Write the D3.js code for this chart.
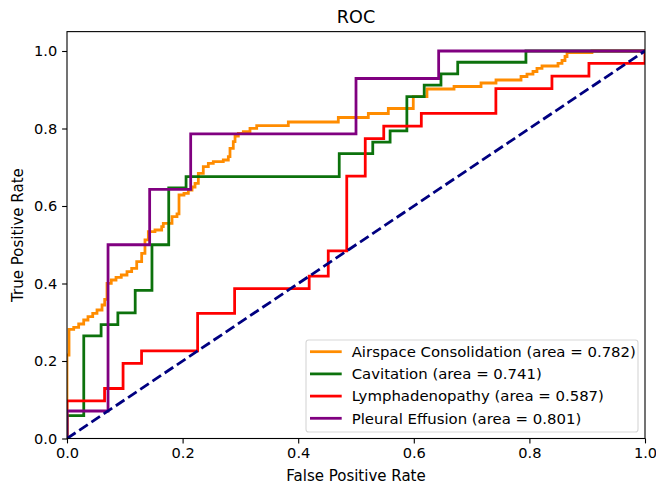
<!DOCTYPE html>
<html>
<head>
<meta charset="utf-8">
<script src="https://cdn.jsdelivr.net/npm/d3@7"></script>
<style>
    body { margin: 0; background: #fff; }
    svg text { font-family: "DejaVu Sans", sans-serif; fill: #000; }
</style>
</head>
<body>
<svg id="chart" width="656" height="487"></svg>
<script>
// classes shown in the legend, in drawing order
var classNames = ["Airspace Consolidation", "Cavitation", "Lymphadenopathy", "Pleural Effusion"];
var aucValues = [0.782, 0.741, 0.587, 0.801];
var lineColors = ["#ff8c00", "#0c720c", "#ff0000", "#800080"];

// roc points (step after: go across to fpr, then up to tpr)
var fprAirspace = [0, 0, 0.0035, 0.0116, 0.0202, 0.0289, 0.0363, 0.0445, 0.0519, 0.0606, 0.0652, 0.0692,
    0.0766, 0.0848, 0.0939, 0.1038, 0.1119, 0.1206, 0.1292, 0.1349, 0.1407, 0.1522, 0.1638, 0.1666, 0.1817,
    0.1903, 0.1938, 0.2024, 0.2099, 0.2163, 0.2215, 0.2272, 0.2358, 0.2445, 0.2531, 0.2704, 0.2791, 0.2820,
    0.2877, 0.2907, 0.2964, 0.3050, 0.3166, 0.3282, 0.3829, 0.4694, 0.5213, 0.5559, 0.5991, 0.6228, 0.6696,
    0.7163, 0.7422, 0.7855, 0.7958, 0.8062, 0.8131, 0.8218, 0.8495, 0.8564, 0.8616, 0.8651, 0.9083, 1];
var tprAirspace = [0, 0.2155, 0.2818, 0.2870, 0.2955, 0.3058, 0.3143, 0.3231, 0.3316, 0.3445, 0.3592, 0.4005,
    0.4090, 0.4160, 0.4219, 0.4305, 0.4392, 0.4563, 0.4779, 0.5123, 0.5337, 0.5381, 0.5466, 0.5554, 0.5724,
    0.5794, 0.6284, 0.6328, 0.6413, 0.6490, 0.6586, 0.6844, 0.7014, 0.7102, 0.7143, 0.7187, 0.7272, 0.7489,
    0.7659, 0.7806, 0.7876, 0.7917, 0.8005, 0.8077, 0.8168, 0.8284, 0.8387, 0.8516, 0.8821, 0.9019, 0.9084,
    0.9174, 0.9252, 0.9342, 0.9406, 0.9471, 0.9554, 0.9613, 0.9683, 0.9755, 0.9858, 0.9961, 1, 1];

var fprCavitation = [0, 0, 0.029, 0.059, 0.088, 0.118, 0.147, 0.176, 0.206, 0.471, 0.529, 0.559, 0.588, 0.618, 0.647, 0.676, 0.794, 1];
var tprCavitation = [0, 0.059, 0.265, 0.294, 0.324, 0.382, 0.5, 0.647, 0.676, 0.735, 0.765, 0.794, 0.882, 0.912, 0.941, 0.971, 1, 1];

var fprLymph = [0, 0, 0.065, 0.097, 0.129, 0.226, 0.290, 0.419, 0.452, 0.484, 0.516, 0.548, 0.613, 0.742, 0.839, 0.903, 1];
var tprLymph = [0, 0.097, 0.129, 0.194, 0.226, 0.323, 0.387, 0.419, 0.484, 0.677, 0.774, 0.806, 0.839, 0.903, 0.935, 0.968, 1];

var fprPleural = [0, 0, 0.071, 0.143, 0.214, 0.5, 0.643, 1];
var tprPleural = [0, 0.071, 0.5, 0.643, 0.786, 0.929, 1, 1];

var tickValues = [0, 0.2, 0.4, 0.6, 0.8, 1.0];

var allFpr = [fprAirspace, fprCavitation, fprLymph, fprPleural];
var allTpr = [tprAirspace, tprCavitation, tprLymph, tprPleural];

var plotLeft = 67, plotRight = 645, plotBottom = 438.5;
var x = d3.scaleLinear().domain([0, 1]).range([plotLeft, plotRight]);
var y = d3.scaleLinear().domain([0, 1.05]).range([plotBottom, plotBottom - 1.05 * 387.5]);
var plotTop = y(1.05);

var svg = d3.select("#chart");

svg.append("defs").append("clipPath")
    .attr("id", "plotArea")
    .append("rect")
    .attr("x", plotLeft)
    .attr("y", plotTop)
    .attr("width", plotRight - plotLeft)
    .attr("height", plotBottom - plotTop);

function toPoints(fpr, tpr) {
    var pts = [];
    for (var i = 0; i < fpr.length; i++) {
        pts.push([fpr[i], tpr[i]]);
    }
    return pts;
}

var stepLine = d3.line()
    .x(function (d) { return x(d[0]); })
    .y(function (d) { return y(d[1]); })
    .curve(d3.curveStepAfter);

var plot = svg.append("g").attr("clip-path", "url(#plotArea)");

for (var i = 0; i < classNames.length; i++) {
    plot.append("path")
        .attr("d", stepLine(toPoints(allFpr[i], allTpr[i])))
        .attr("fill", "none")
        .attr("stroke", lineColors[i])
        .attr("stroke-width", 2.78)
        .attr("stroke-linejoin", "miter")
        .attr("stroke-linecap", "square");
}

// chance line
plot.append("line")
    .attr("x1", x(0)).attr("y1", y(0))
    .attr("x2", x(1)).attr("y2", y(1))
    .attr("stroke", "#000080")
    .attr("stroke-width", 2.78)
    .attr("stroke-dasharray", "10.3,4.4");

// axes
var xAxis = d3.axisBottom(x).tickValues(tickValues).tickFormat(d3.format(".1f"))
    .tickSize(4.9).tickPadding(4.2);
var yAxis = d3.axisLeft(y).tickValues(tickValues).tickFormat(d3.format(".1f"))
    .tickSize(4.9).tickPadding(4.9);

var gx = svg.append("g").attr("transform", "translate(0," + plotBottom + ")").call(xAxis);
var gy = svg.append("g").attr("transform", "translate(" + plotLeft + ",0)").call(yAxis);

[gx, gy].forEach(function (g) {
    g.select(".domain").remove();
    g.selectAll(".tick line").attr("stroke", "#000").attr("stroke-width", 1.1);
    g.selectAll(".tick text").attr("font-size", "14.6px").attr("font-family", "DejaVu Sans");
});

svg.append("rect")
    .attr("x", plotLeft)
    .attr("y", plotTop)
    .attr("width", plotRight - plotLeft)
    .attr("height", plotBottom - plotTop)
    .attr("fill", "none")
    .attr("stroke", "#000")
    .attr("stroke-width", 1.1);

svg.append("text")
    .attr("x", (plotLeft + plotRight) / 2)
    .attr("y", 23)
    .attr("text-anchor", "middle")
    .attr("font-size", "17.6px")
    .text("ROC");

svg.append("text")
    .attr("x", (plotLeft + plotRight) / 2)
    .attr("y", 481)
    .attr("text-anchor", "middle")
    .attr("font-size", "15px")
    .text("False Positive Rate");

svg.append("text")
    .attr("transform", "translate(23," + ((plotTop + plotBottom) / 2) + ") rotate(-90)")
    .attr("text-anchor", "middle")
    .attr("font-size", "15px")
    .text("True Positive Rate");

// legend, lower right
var legend = svg.append("g");
legend.append("rect")
    .attr("x", 306)
    .attr("y", 340)
    .attr("width", 332)
    .attr("height", 92)
    .attr("rx", 2.8)
    .attr("fill", "rgba(255,255,255,0.8)")
    .attr("stroke", "rgba(204,204,204,0.8)")
    .attr("stroke-width", 1.1);

for (var j = 0; j < classNames.length; j++) {
    var rowY = 351.7 + j * 22.2;
    legend.append("line")
        .attr("x1", 310).attr("x2", 341.7)
        .attr("y1", rowY).attr("y2", rowY)
        .attr("stroke", lineColors[j])
        .attr("stroke-width", 2.78);
    legend.append("text")
        .attr("x", 351.7)
        .attr("y", rowY + 5.3)
        .attr("font-size", "14.9px")
        .text(classNames[j] + " (area = " + aucValues[j].toFixed(3) + ")");
}
</script>
</body>
</html>
